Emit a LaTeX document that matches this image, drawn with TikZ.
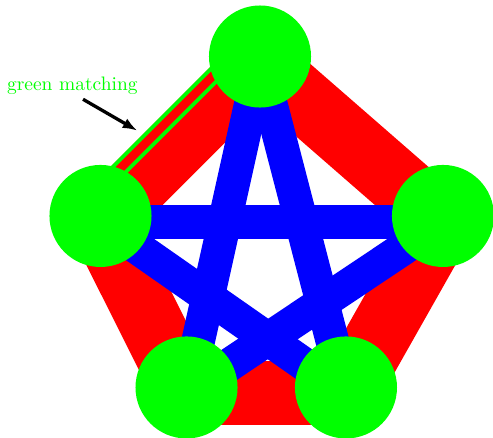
\documentclass[tikz,border=0pt]{standalone}
\usetikzlibrary{arrows.meta}

\begin{document}
\begin{tikzpicture}[line cap=butt,
    vertex/.style={circle, fill=green, inner sep=0pt, minimum size=1.84cm},
    rim/.style={red, line width=32.8pt},
    spoke/.style={blue, line width=17.2pt},
    matching/.style={green, line width=2pt, double=red, double distance=4.4pt}]
  \useasboundingbox (0,0) rectangle (8.889,7.897);
  % vertex positions
  \coordinate (t)  at (4.688,6.878);
  \coordinate (l)  at (1.812,4.003);
  \coordinate (r)  at (7.987,4.003);
  \coordinate (bl) at (3.363,0.911);
  \coordinate (br) at (6.238,0.911);
  % edges, sitting a bit below the vertex centres
  \begin{scope}[transform canvas={yshift=-0.108cm}]
    % outer cycle
    \draw[rim] (l) -- (t);
    \draw[rim] (t) -- (r);
    \draw[rim] (r) -- (br);
    \draw[rim] (br) -- (bl);
    \draw[rim] (bl) -- (l);
    % inner star
    \draw[spoke] (t) -- (bl);
    \draw[spoke] (t) -- (br);
    \draw[spoke] (l) -- (r);
    \draw[spoke] (l) -- (br);
    \draw[spoke] (r) -- (bl);
    % matching edge along the outer rim
    \draw[matching] ([shift={(135:0.43)}]l) -- ([shift={(135:0.43)}]t);
  \end{scope}
  % vertices
  \node[vertex] (vt)  at (t)  {};
  \node[vertex] (vl)  at (l)  {};
  \node[vertex] (vr)  at (r)  {};
  \node[vertex] (vbl) at (bl) {};
  \node[vertex] (vbr) at (br) {};
  % label with pointer
  \node[green, anchor=base, inner sep=0pt] (lab) at (1.304,6.265) {green matching};
  \coordinate (ptrfrom) at (1.497,6.107);
  \coordinate (ptrto)   at (2.476,5.541);
  \draw[-{Latex[length=7.5pt,width=5.5pt]}, line width=1.7pt] (ptrfrom) -- (ptrto);
\end{tikzpicture}
\end{document}
